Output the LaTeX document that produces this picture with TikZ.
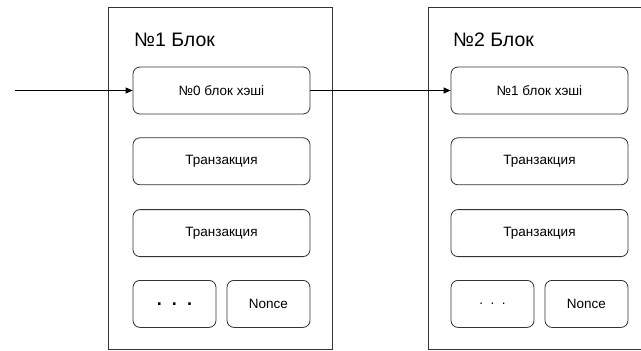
\documentclass[tikz,border=0pt]{standalone}
\usepackage{fontspec}
\setmainfont{Liberation Sans}
\usetikzlibrary{
  arrows.meta,
  positioning
}
\definecolor{lineclr}{HTML}{333333}

\begin{document}
\begin{tikzpicture}[
  x=1pt, y=-1pt,
  block/.style={draw=lineclr, line width=0.9pt, minimum width=224pt,
    minimum height=342pt, inner sep=0pt},
  field/.style={draw=lineclr, line width=0.8pt, rounded corners=7pt,
    minimum width=177pt, minimum height=47pt, inner sep=0pt,
    font=\fontsize{13.5}{16}\selectfont},
  halffield/.style={field, minimum width=83pt},
  title/.style={font=\fontsize{19.5}{23}\selectfont, anchor=west, inner sep=0pt},
  arrow/.style={-{Triangle[length=7pt, width=6pt]}, line width=0.8pt}
]
  \useasboundingbox (0,0) rectangle (641,351);
  \clip (0,0) rectangle (641,351);

  % first block
  \node[block] (b1) at (220,178) {};
  \node[title] (t1) at (134,40) {№1 Блок};
  \node[field] (h1) at (221.5,90.5) {№0 блок хэші};
  \node[field, below=23pt of h1] (tx1a) {Транзакция};
  \node[field, below=24pt of tx1a] (tx1b) {Транзакция};
  \node[halffield, anchor=north west] (d1) at ([yshift=-23pt]tx1b.south west)
    {\fontsize{18}{20}\selectfont\textbf{.\ \ .\ \ .}};
  \node[halffield, anchor=north east] (n1) at ([yshift=-23pt]tx1b.south east) {Nonce};

  % second block
  \node[block] (b2) at (540,178) {};
  \node[title] (t2) at (453,40) {№2 Блок};
  \node[field] (h2) at (539.5,90.5) {№1 блок хэші};
  \node[field, below=23pt of h2] (tx2a) {Транзакция};
  \node[field, below=24pt of tx2a] (tx2b) {Транзакция};
  \node[halffield, anchor=north west] (d2) at ([yshift=-23pt]tx2b.south west) {.\ \ .\ \ .};
  \node[halffield, anchor=north east] (n2) at ([yshift=-23pt]tx2b.south east) {Nonce};

  % hash links
  \coordinate (in1) at (15,90.5);
  \draw[arrow] (in1) -- (h1);
  \draw[arrow] (h1) -- (h2);

\end{tikzpicture}
\end{document}
